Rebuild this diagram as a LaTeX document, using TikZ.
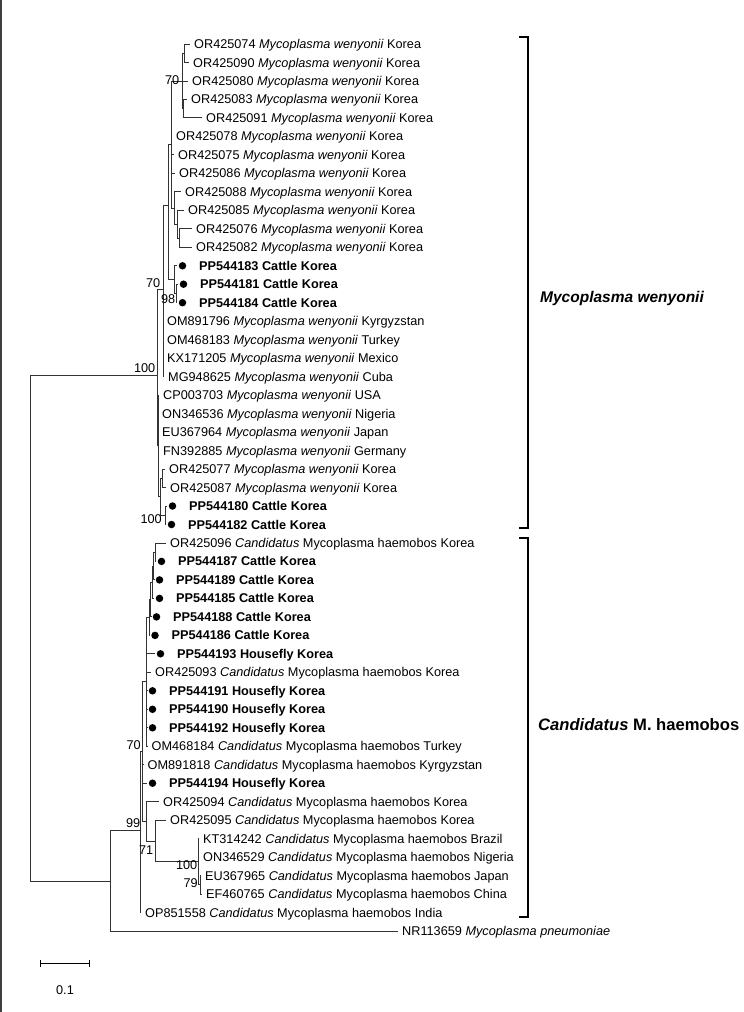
\documentclass[tikz,border=0pt]{standalone}
\usepackage{fontspec}
\setmainfont{Liberation Sans}
\newcommand\Mw{\textit{Mycoplasma wenyonii}}
\newcommand\Cmh{\textit{Candidatus} Mycoplasma haemobos}
\newcommand\tipP[4]{\coordinate (#1) at (#2,#3); \node[tl] (#1l) at ([xshift=4pt,yshift=-4.5pt]#1) {#4};}
\newcommand\tipD[4]{\coordinate (#1) at (#2,#3); \node[dotn] (#1d) at ([xshift=5.5pt]#1) {}; \node[tb] (#1l) at ([xshift=22pt,yshift=-4.5pt]#1) {#4};}
\newcommand\bsv[3]{\node[bs] at ([yshift=-4.5pt]#1,#2) {#3};}
\begin{document}
\begin{tikzpicture}[x=1pt,y=-1pt,
  br/.style={line width=0.9pt, draw=black!80},
  tl/.style={anchor=base west, inner sep=0pt, font=\fontsize{12.7}{14}\selectfont},
  tb/.style={anchor=base west, inner sep=0pt, font=\fontsize{12.7}{14}\selectfont\bfseries},
  bs/.style={anchor=base east, inner sep=0pt, font=\fontsize{12.7}{14}\selectfont},
  dotn/.style={circle, fill=black, inner sep=0pt, minimum size=7.5pt},
  clade/.style={anchor=west, inner sep=0pt, font=\fontsize{15.5}{18}\selectfont\bfseries},
  brk/.style={line width=2pt, draw=black},
]
\useasboundingbox (0,0) rectangle (744,1012);
\fill[white] (0,0) rectangle (744,1012);
\draw[line width=2pt, black!75] (1,0) -- (1,1012);

% ---- tips ----
\tipP{t1}{190}{44.0}{OR425074 \Mw{} Korea}
\tipP{t2}{189}{62.5}{OR425090 \Mw{} Korea}
\tipP{t3}{188}{81.0}{OR425080 \Mw{} Korea}
\tipP{t4}{187}{99.4}{OR425083 \Mw{} Korea}
\tipP{t5}{202}{117.9}{OR425091 \Mw{} Korea}
\tipP{t6}{172}{136.4}{OR425078 \Mw{} Korea}
\tipP{t7}{174}{154.9}{OR425075 \Mw{} Korea}
\tipP{t8}{175}{173.4}{OR425086 \Mw{} Korea}
\tipP{t9}{181}{191.8}{OR425088 \Mw{} Korea}
\tipP{t10}{184}{210.3}{OR425085 \Mw{} Korea}
\tipP{t11}{192}{228.8}{OR425076 \Mw{} Korea}
\tipP{t12}{192}{247.3}{OR425082 \Mw{} Korea}
\tipD{t13}{177}{265.8}{PP544183 Cattle Korea}
\tipD{t14}{178}{284.2}{PP544181 Cattle Korea}
\tipD{t15}{177}{302.7}{PP544184 Cattle Korea}
\tipP{t16}{163}{321.2}{OM891796 \Mw{} Kyrgyzstan}
\tipP{t17}{163}{339.7}{OM468183 \Mw{} Turkey}
\tipP{t18}{163}{358.2}{KX171205 \Mw{} Mexico}
\tipP{t19}{164}{376.6}{MG948625 \Mw{} Cuba}
\tipP{t20}{159}{395.1}{CP003703 \Mw{} USA}
\tipP{t21}{158}{413.6}{ON346536 \Mw{} Nigeria}
\tipP{t22}{158}{432.1}{EU367964 \Mw{} Japan}
\tipP{t23}{159}{450.6}{FN392885 \Mw{} Germany}
\tipP{t24}{165}{469.0}{OR425077 \Mw{} Korea}
\tipP{t25}{166}{487.5}{OR425087 \Mw{} Korea}
\tipD{t26}{167}{506.0}{PP544180 Cattle Korea}
\tipD{t27}{166}{524.5}{PP544182 Cattle Korea}
\tipP{t28}{166}{543.0}{OR425096 \Cmh{} Korea}
\tipD{t29}{156}{561.4}{PP544187 Cattle Korea}
\tipD{t30}{154}{579.9}{PP544189 Cattle Korea}
\tipD{t31}{154}{598.4}{PP544185 Cattle Korea}
\tipD{t32}{151}{616.9}{PP544188 Cattle Korea}
\tipD{t33}{149.5}{635.4}{PP544186 Cattle Korea}
\tipD{t34}{155}{653.8}{PP544193 Housefly Korea}
\tipP{t35}{151}{672.3}{OR425093 \Cmh{} Korea}
\tipD{t36}{147}{690.8}{PP544191 Housefly Korea}
\tipD{t37}{147}{709.3}{PP544190 Housefly Korea}
\tipD{t38}{147}{727.8}{PP544192 Housefly Korea}
\tipP{t39}{147.5}{746.2}{OM468184 \Cmh{} Turkey}
\tipP{t40}{143.5}{764.7}{OM891818 \Cmh{} Kyrgyzstan}
\tipD{t41}{147}{783.2}{PP544194 Housefly Korea}
\tipP{t42}{159}{801.7}{OR425094 \Cmh{} Korea}
\tipP{t43}{166}{820.2}{OR425095 \Cmh{} Korea}
\tipP{t44}{199}{838.6}{KT314242 \Cmh{} Brazil}
\tipP{t45}{199}{857.1}{ON346529 \Cmh{} Nigeria}
\tipP{t46}{201}{875.6}{EU367965 \Cmh{} Japan}
\tipP{t47}{202}{894.1}{EF460765 \Cmh{} China}
\tipP{t48}{141}{912.6}{OP851558 \Cmh{} India}
\tipP{t49}{398}{931.0}{NR113659 \textit{Mycoplasma pneumoniae}}

% ---- internal nodes ----
\coordinate (nA) at (184,53.25);
\coordinate (nC) at (183,108.65);
\coordinate (nB) at (182,80.95);
\coordinate (nK1) at (179,238.05);
\coordinate (nK2) at (177,224.2);
\coordinate (nK3) at (174.5,208.0);
\coordinate (nD) at (171,144.5);
\coordinate (n98) at (176,293.45);
\coordinate (nP) at (174,279.6);
\coordinate (nG) at (168,205);
\coordinate (n70b) at (163,289);
\coordinate (nR) at (162,478.25);
\coordinate (nCc) at (165,515.25);
\coordinate (nQ) at (160,496.75);
\coordinate (nS) at (158,445.9);
\coordinate (nMW) at (157,375);
\coordinate (L1) at (155,552.2);
\coordinate (L2) at (153.5,566.05);
\coordinate (L3) at (152,582.2);
\coordinate (L4) at (150.5,599.5);
\coordinate (L5) at (149,617.5);
\coordinate (nM) at (146.5,681.85);
\coordinate (nX) at (146,821.3);
\coordinate (n71) at (155,840.95);
\coordinate (n100) at (198,861.7);
\coordinate (n79) at (200,884.85);
\coordinate (n70) at (142.5,751.6);
\coordinate (n99) at (140,830);
\coordinate (n110) at (110,881.5);
\coordinate (root) at (30,625.8);

% ---- branches ----
\begin{scope}[br]
\foreach \p/\c in {nA/t1, nA/t2, nC/t4, nC/t5, nB/nA, nB/t3, nB/nC,
  nK1/t11, nK1/t12, nK2/t10, nK2/nK1, nK3/t9, nK3/nK2,
  nD/nB, nD/t6, nD/t7, nD/t8, nD/nK3,
  n98/t14, n98/t15, nP/t13, nP/n98, nG/nD, nG/nP,
  n70b/nG, n70b/t16, n70b/t17, n70b/t18, n70b/t19,
  nR/t24, nR/t25, nCc/t26, nCc/t27, nQ/nR, nQ/nCc,
  nS/t20, nS/t21, nS/t22, nS/t23, nS/nQ, nMW/n70b, nMW/nS,
  L1/t28, L1/t29, L2/L1, L2/t30, L3/L2, L3/t31, L4/L3, L4/t32, L5/L4, L5/t33,
  nM/L5, nM/t34, nM/t35, nM/t36, nM/t37, nM/t38, nM/t39,
  n79/t46, n79/t47, n100/t44, n100/t45, n100/n79, n71/t43, n71/n100,
  nX/t42, nX/n71, n70/nM, n70/t40, n70/t41, n70/nX,
  n99/n70, n99/t48, n110/n99, n110/t49, root/nMW, root/n110}
  \draw (\p) |- (\c);
\end{scope}

% ---- bootstrap values ----
\bsv{179.5}{80}{70}
\bsv{160.5}{283}{70}
\bsv{175.5}{299}{98}
\bsv{155.5}{368}{100}
\bsv{162}{519}{100}
\bsv{140.5}{823}{99}
\bsv{141}{745}{70}
\bsv{153.5}{850}{71}
\bsv{197.5}{865}{100}
\bsv{198}{883}{79}

% ---- clade brackets ----
\coordinate (b1a) at (519,37); \coordinate (b1b) at (528,37);
\coordinate (b1c) at (528,528); \coordinate (b1d) at (519,528);
\draw[brk] (b1a) -- (b1b) -- (b1c) -- (b1d);
\coordinate (b2a) at (519,538); \coordinate (b2b) at (528,538);
\coordinate (b2c) at (528,917); \coordinate (b2d) at (519,917);
\draw[brk] (b2a) -- (b2b) -- (b2c) -- (b2d);
\node[clade] (cl1) at (540,298) {\textit{Mycoplasma wenyonii}};
\node[clade, font=\fontsize{16.6}{19}\selectfont\bfseries] (cl2) at (538,725) {\textit{Candidatus} M. haemobos};

% ---- scale bar ----
\coordinate (sb1) at (40.7,963); \coordinate (sb2) at (89.3,963);
\draw[line width=0.9pt] (sb1) -- (sb2);
\draw[line width=0.9pt] ([yshift=3.5pt]sb1) -- ([yshift=-3.5pt]sb1);
\draw[line width=0.9pt] ([yshift=3.5pt]sb2) -- ([yshift=-3.5pt]sb2);
\node[inner sep=0pt, font=\fontsize{12.7}{14}\selectfont] (sbl) at (65,990) {0.1};
\end{tikzpicture}
\end{document}
